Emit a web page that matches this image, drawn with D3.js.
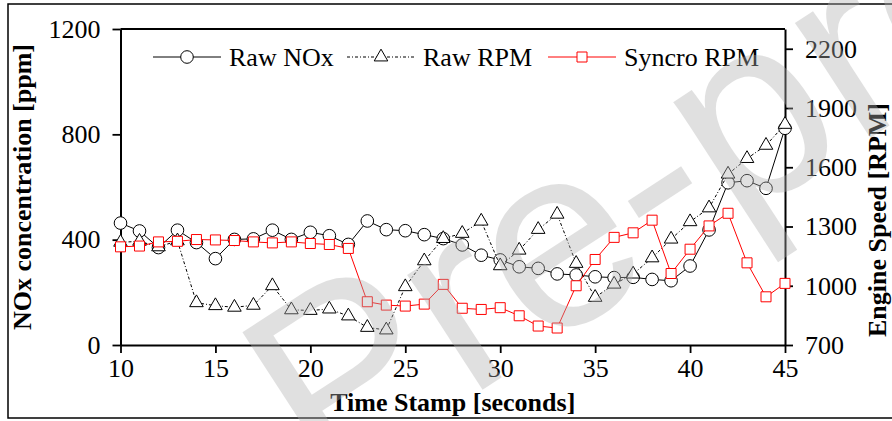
<!DOCTYPE html>
<html>
<head>
<meta charset="utf-8">
<script src="https://cdn.jsdelivr.net/npm/d3@7"></script>
<style>
  body { margin: 0; background: #fff; }
  svg text { font-family: "Liberation Serif", "Times New Roman", serif; }
  svg text.watermark { font-family: "Liberation Sans", Arial, sans-serif; }
</style>
</head>
<body>
<div id="chart"></div>
<script>
// time stamps (seconds)
const seconds = [10, 11, 12, 13, 14, 15, 16, 17, 18, 19, 20, 21, 22, 23, 24, 25, 26, 27,
                 28, 29, 30, 31, 32, 33, 34, 35, 36, 37, 38, 39, 40, 41, 42, 43, 44, 45];
// NOx concentration [ppm] (left axis)
const rawNOx = [463, 433, 370, 436, 389, 328, 401, 403, 436, 401, 428, 415, 382, 471, 438, 434, 419, 404,
                380, 341, 323, 297, 291, 270, 266, 259, 256, 257, 249, 244, 300, 437, 616, 624, 595, 823];
// engine speed [RPM] (right axis)
const rawRPM = [1220, 1225, 1197, 1227, 914, 899, 891, 901, 1000, 878, 875, 882, 847, 789, 776, 995, 1126, 1239,
                1265, 1327, 1101, 1180, 1285, 1362, 1113, 941, 1008, 1059, 1141, 1236, 1324, 1394, 1565, 1644, 1711, 1817];
const syncroRPM = [1197, 1201, 1222, 1225, 1234, 1232, 1229, 1222, 1217, 1222, 1214, 1209, 1189, 919, 902, 897, 907, 1007,
                   886, 880, 889, 848, 796, 786, 1000, 1133, 1245, 1268, 1332, 1062, 1185, 1303, 1367, 1116, 944, 1012];

const xTicks = [10, 15, 20, 25, 30, 35, 40, 45];
const leftTicks = [0, 400, 800, 1200];
const rightTicks = [700, 1000, 1300, 1600, 1900, 2200];

const width = 892, height = 421;
const margin = { top: 29, right: 107, bottom: 76, left: 120.5 };

const svg = d3.select("#chart").append("svg")
    .attr("width", width)
    .attr("height", height);

// outer frame
svg.append("rect")
    .attr("x", 8).attr("y", 4)
    .attr("width", 890).attr("height", 414)
    .attr("fill", "none")
    .attr("stroke", "#000")
    .attr("stroke-width", 1.5);

const x = d3.scaleLinear().domain([10, 45]).range([margin.left, width - margin.right]);
const yL = d3.scaleLinear().domain([0, 1200]).range([height - margin.bottom, margin.top]);
const yR = d3.scaleLinear().domain([700, 2300]).range([height - margin.bottom, margin.top]);

const fontSize = 26;
const fmt = d3.format("d");

function styleAxis(g) {
    g.select(".domain").attr("stroke-width", 2);
    g.selectAll(".tick line").attr("stroke-width", 1.8);
    g.selectAll(".tick text")
        .attr("font-size", fontSize)
        .attr("fill", "#000");
}

svg.append("g")
    .attr("transform", `translate(0,${height - margin.bottom})`)
    .call(d3.axisBottom(x).tickValues(xTicks).tickFormat(fmt).tickSize(8).tickSizeOuter(0).tickPadding(6))
    .call(styleAxis);

svg.append("g")
    .attr("transform", `translate(${margin.left},0)`)
    .call(d3.axisLeft(yL).tickValues(leftTicks).tickFormat(fmt).tickSize(8).tickSizeOuter(0).tickPadding(12))
    .call(styleAxis);

svg.append("g")
    .attr("transform", `translate(${width - margin.right},0)`)
    .call(d3.axisRight(yR).tickValues(rightTicks).tickFormat(fmt).tickSize(8).tickSizeOuter(0).tickPadding(12))
    .call(styleAxis);

// top border of plot
svg.append("line")
    .attr("x1", margin.left).attr("x2", width - margin.right)
    .attr("y1", margin.top).attr("y2", margin.top)
    .attr("stroke", "#000").attr("stroke-width", 2);

// axis titles
svg.append("text")
    .attr("transform", `translate(31,${(margin.top + height - margin.bottom) / 2}) rotate(-90)`)
    .attr("text-anchor", "middle")
    .attr("font-size", fontSize)
    .attr("font-weight", "bold")
    .text("NOx concentration [ppm]");

svg.append("text")
    .attr("transform", `translate(886,220) rotate(-90)`)
    .attr("text-anchor", "middle")
    .attr("font-size", fontSize)
    .attr("font-weight", "bold")
    .text("Engine Speed [RPM]");

svg.append("text")
    .attr("x", (margin.left + width - margin.right) / 2)
    .attr("y", 411)
    .attr("text-anchor", "middle")
    .attr("font-size", fontSize)
    .attr("font-weight", "bold")
    .text("Time Stamp [seconds]");

const series = [
    { name: "Raw NOx", values: rawNOx, y: yL, color: "#000", dash: null, symbol: d3.symbolCircle, size: 125 },
    { name: "Raw RPM", values: rawRPM, y: yR, color: "#000", dash: "3,2,1,2", symbol: d3.symbolTriangle, size: 80 },
    { name: "Syncro RPM", values: syncroRPM, y: yR, color: "#ff0000", dash: null, symbol: d3.symbolSquare, size: 100 }
];

series.forEach(s => {
    const pts = seconds.map((t, i) => [t, s.values[i]]);
    const line = d3.line().x(d => x(d[0])).y(d => s.y(d[1]));
    svg.append("path")
        .datum(pts)
        .attr("d", line)
        .attr("fill", "none")
        .attr("stroke", s.color)
        .attr("stroke-width", 1)
        .attr("stroke-dasharray", s.dash);
    svg.append("g").selectAll("path")
        .data(pts)
        .enter().append("path")
        .attr("d", d3.symbol().type(s.symbol).size(s.size))
        .attr("transform", d => `translate(${x(d[0])},${s.y(d[1])})`)
        .attr("fill", "#fff")
        .attr("stroke", s.color)
        .attr("stroke-width", 1);
});

// legend
const legendX = [153, 347, 548];
const legend = svg.append("g");
series.forEach((s, i) => {
    const lx = legendX[i];
    legend.append("line")
        .attr("x1", lx).attr("x2", lx + 68)
        .attr("y1", 57).attr("y2", 57)
        .attr("stroke", s.color)
        .attr("stroke-width", 1)
        .attr("stroke-dasharray", s.dash);
    legend.append("path")
        .attr("d", d3.symbol().type(s.symbol).size(s.size))
        .attr("transform", `translate(${lx + 34},57)`)
        .attr("fill", "#fff")
        .attr("stroke", s.color);
    legend.append("text")
        .attr("x", lx + 76)
        .attr("y", 66)
        .attr("font-size", fontSize)
        .text(s.name);
});

// watermark
svg.append("text")
    .attr("class", "watermark")
    .attr("transform", "translate(322,494) rotate(-33)")
    .attr("font-size", 260)
    .attr("fill", "#b0b0b0")
    .attr("opacity", 0.38)
    .text("Pre-proof");
</script>
</body>
</html>
